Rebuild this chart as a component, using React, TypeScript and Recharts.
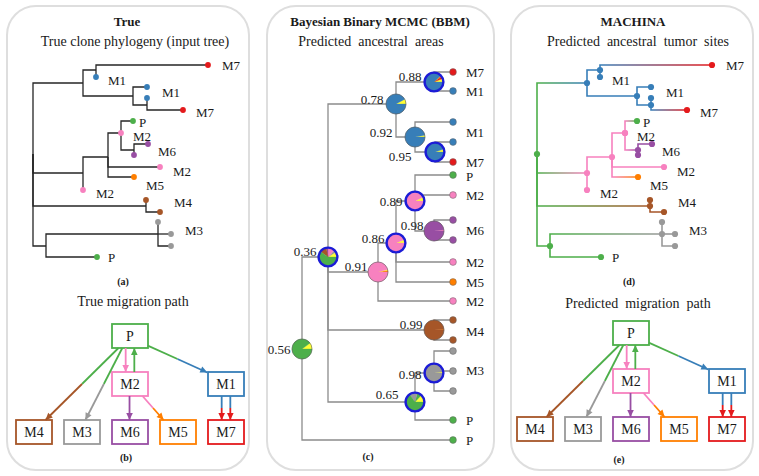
import React from 'react';
import { ScatterChart, Scatter, XAxis, YAxis, Sector } from 'recharts';

const FONT = '"Liberation Serif", "Times New Roman", serif';

const siteColors: Record<string, string> = {
  P: '#4daf4a', M1: '#377eb8', M2: '#f781bf', M3: '#999999', M4: '#a65628',
  M5: '#ff7f00', M6: '#984ea3', M7: '#e41a1c', Y: '#ffff33',
};

// ---------- True clone phylogeny (panels a and d): layout positions ----------
const cloneNodes = [
  { id: 'r', parent: '', x: 33, y: 154, site: 'P', leaf: false },
  { id: 'n1', parent: 'r', x: 83, y: 83, site: 'M1', leaf: false },
  { id: 'n2', parent: 'n1', x: 96, y: 70, site: 'M1', leaf: false },
  { id: 'l1', parent: 'n2', x: 208, y: 65, site: 'M7', leaf: true },
  { id: 'l2', parent: 'n2', x: 96, y: 77, site: 'M1', leaf: true },
  { id: 'n3', parent: 'n1', x: 133, y: 96, site: 'M1', leaf: false },
  { id: 'l3', parent: 'n3', x: 147, y: 87, site: 'M1', leaf: true },
  { id: 'n4', parent: 'n3', x: 147, y: 105, site: 'M1', leaf: false },
  { id: 'l4', parent: 'n4', x: 147, y: 98, site: 'M1', leaf: true },
  { id: 'l5', parent: 'n4', x: 183, y: 110, site: 'M7', leaf: true },
  { id: 'n5', parent: 'r', x: 83, y: 173, site: 'M2', leaf: false },
  { id: 'n6', parent: 'n5', x: 108, y: 157, site: 'M2', leaf: false },
  { id: 'n7', parent: 'n6', x: 121, y: 133, site: 'M2', leaf: false },
  { id: 'l6', parent: 'n7', x: 121, y: 133, site: 'M2', leaf: true },
  { id: 'l7', parent: 'n7', x: 133, y: 121, site: 'P', leaf: true },
  { id: 'n8', parent: 'n7', x: 134, y: 150, site: 'M6', leaf: false },
  { id: 'l8', parent: 'n8', x: 148, y: 144, site: 'M6', leaf: true },
  { id: 'l9', parent: 'n8', x: 134, y: 155, site: 'M6', leaf: true },
  { id: 'l10', parent: 'n6', x: 160, y: 167, site: 'M2', leaf: true },
  { id: 'l11', parent: 'n6', x: 134, y: 177, site: 'M5', leaf: true },
  { id: 'l12', parent: 'n5', x: 83, y: 190, site: 'M2', leaf: true },
  { id: 'n9', parent: 'r', x: 146, y: 206, site: 'M4', leaf: false },
  { id: 'l13', parent: 'n9', x: 146, y: 200, site: 'M4', leaf: true },
  { id: 'l14', parent: 'n9', x: 160, y: 212, site: 'M4', leaf: true },
  { id: 'n10', parent: 'r', x: 46, y: 246, site: 'P', leaf: false },
  { id: 'n11', parent: 'n10', x: 158, y: 234, site: 'M3', leaf: false },
  { id: 'l15', parent: 'n11', x: 158, y: 222, site: 'M3', leaf: true },
  { id: 'l16', parent: 'n11', x: 171, y: 234, site: 'M3', leaf: true },
  { id: 'l17', parent: 'n11', x: 171, y: 246, site: 'M3', leaf: true },
  { id: 'l18', parent: 'n10', x: 97, y: 257, site: 'P', leaf: true },
];

const cloneLabels = [
  { text: 'M7', x: 222, y: 65 }, { text: 'M1', x: 108, y: 80 }, { text: 'M1', x: 162, y: 92 },
  { text: 'M7', x: 196, y: 112 }, { text: 'P', x: 139, y: 122 }, { text: 'M2', x: 133, y: 136 },
  { text: 'M6', x: 158, y: 151 }, { text: 'M2', x: 173, y: 171 }, { text: 'M5', x: 146, y: 185 },
  { text: 'M2', x: 96, y: 193 }, { text: 'M4', x: 174, y: 202 }, { text: 'M3', x: 185, y: 230 },
  { text: 'P', x: 108, y: 257 },
];

// ---------- BBM tree (panel c) ----------
const bbmNodes = [
  { id: 'R', parent: '', x: 302, y: 349, ring: false, pie: [['Y', 0.1], ['P', 0.9]] },
  { id: 'E', parent: 'R', x: 328, y: 257, ring: true, pie: [['Y', 0.09], ['M3', 0.04], ['M2', 0.12], ['M6', 0.03], ['M4', 0.12], ['P', 0.6]] },
  { id: 'B', parent: 'E', x: 396, y: 104, ring: false, pie: [['Y', 0.08], ['M1', 0.92]] },
  { id: 'A', parent: 'B', x: 434, y: 82, ring: true, pie: [['Y', 0.06], ['M7', 0.04], ['M5', 0.02], ['M1', 0.88]] },
  { id: 'C', parent: 'B', x: 415, y: 137, ring: false, pie: [['Y', 0.03], ['M1', 0.97]] },
  { id: 'D', parent: 'C', x: 435, y: 152, ring: true, pie: [['Y', 0.05], ['M1', 0.95]] },
  { id: 'F', parent: 'E', x: 378, y: 272, ring: false, pie: [['M5', 0.03], ['Y', 0.01], ['M2', 0.96]] },
  { id: 'G', parent: 'F', x: 396, y: 243, ring: true, pie: [['Y', 0.06], ['M2', 0.94]] },
  { id: 'H', parent: 'G', x: 415, y: 201, ring: true, pie: [['Y', 0.07], ['M2', 0.93]] },
  { id: 'I', parent: 'H', x: 434, y: 231, ring: false, pie: [['M2', 0.02], ['M6', 0.98]] },
  { id: 'J', parent: 'E', x: 434, y: 330, ring: false, pie: [['M5', 0.01], ['M4', 0.99]] },
  { id: 'K', parent: 'E', x: 415, y: 402, ring: true, pie: [['Y', 0.13], ['P', 0.08], ['M3', 0.14], ['P', 0.65]] },
  { id: 'L', parent: 'K', x: 434, y: 373, ring: true, pie: [['Y', 0.02], ['M3', 0.98]] },
];

const bbmLeaves = [
  { parent: 'A', x: 453, y: 72, site: 'M7' }, { parent: 'A', x: 453, y: 91, site: 'M1' },
  { parent: 'C', x: 453, y: 122, site: 'M1' }, { parent: 'D', x: 453, y: 142, site: 'M1' },
  { parent: 'D', x: 453, y: 162, site: 'M7' }, { parent: 'H', x: 453, y: 175, site: 'P' },
  { parent: 'H', x: 453, y: 195, site: 'M2' }, { parent: 'I', x: 453, y: 220, site: 'M6' },
  { parent: 'I', x: 453, y: 240, site: 'M6' }, { parent: 'G', x: 453, y: 262, site: 'M2' },
  { parent: 'G', x: 453, y: 282, site: 'M5' }, { parent: 'F', x: 453, y: 301, site: 'M2' },
  { parent: 'J', x: 453, y: 320, site: 'M4' }, { parent: 'J', x: 453, y: 340, site: 'M4' },
  { parent: 'L', x: 453, y: 351, site: 'M3' }, { parent: 'L', x: 453, y: 371, site: 'M3' },
  { parent: 'L', x: 453, y: 391, site: 'M3' }, { parent: 'K', x: 453, y: 420, site: 'P' },
  { parent: 'R', x: 453, y: 440, site: 'P' },
];

const bbmLeafLabels = [
  { text: 'M7', x: 466, y: 72 }, { text: 'M1', x: 466, y: 91 }, { text: 'M1', x: 466, y: 132 },
  { text: 'M7', x: 466, y: 162 }, { text: 'P', x: 466, y: 176 }, { text: 'M2', x: 466, y: 195 },
  { text: 'M6', x: 466, y: 230 }, { text: 'M2', x: 466, y: 262 }, { text: 'M5', x: 466, y: 282 },
  { text: 'M2', x: 466, y: 301 }, { text: 'M4', x: 466, y: 331 }, { text: 'M3', x: 466, y: 370 },
  { text: 'P', x: 466, y: 420 }, { text: 'P', x: 466, y: 440 },
];

const bbmProbLabels = [
  { text: '0.88', x: 410, y: 76 }, { text: '0.78', x: 372, y: 99 }, { text: '0.92', x: 381, y: 132 },
  { text: '0.95', x: 400, y: 156 }, { text: '0.89', x: 391, y: 201 }, { text: '0.98', x: 412, y: 225 },
  { text: '0.86', x: 373, y: 238 }, { text: '0.36', x: 305, y: 251 }, { text: '0.91', x: 356, y: 266 },
  { text: '0.99', x: 411, y: 324 }, { text: '0.98', x: 410, y: 374 }, { text: '0.65', x: 387, y: 394 },
  { text: '0.56', x: 279, y: 349 },
];

// ---------- Migration graphs (panels b and e): grid positions ----------
const migNodes = [
  { id: 'P', col: 2, row: 0 }, { id: 'M2', col: 2, row: 1 }, { id: 'M1', col: 4, row: 1 },
  { id: 'M4', col: 0, row: 2 }, { id: 'M3', col: 1, row: 2 }, { id: 'M6', col: 2, row: 2 },
  { id: 'M5', col: 3, row: 2 }, { id: 'M7', col: 4, row: 2 },
];

const migEdges = [
  { c1: 'P', c2: 'M4', x1: 1.76, y1: 0.25, x2: 0.24, y2: 1.75 },
  { c1: 'P', c2: 'M3', x1: 1.84, y1: 0.25, x2: 1.07, y2: 1.75 },
  { c1: 'M2', c2: 'M2', x1: 1.91, y1: 0.25, x2: 1.91, y2: 0.75 },
  { c1: 'P', c2: 'P', x1: 2.09, y1: 0.75, x2: 2.09, y2: 0.25 },
  { c1: 'P', c2: 'M1', x1: 2.37, y1: 0.2, x2: 3.61, y2: 0.76 },
  { c1: 'M6', c2: 'M6', x1: 1.99, y1: 1.25, x2: 1.99, y2: 1.75 },
  { c1: 'M2', c2: 'M5', x1: 2.26, y1: 1.25, x2: 2.7, y2: 1.75 },
  { c1: 'M1', c2: 'M7', x1: 3.91, y1: 1.25, x2: 3.91, y2: 1.75 },
  { c1: 'M1', c2: 'M7', x1: 4.09, y1: 1.25, x2: 4.09, y2: 1.75 },
];

// ---------- helpers ----------
const NoShape = () => <g />;

function elbow(p: any, c: any) {
  return [{ x: p.x, y: p.y }, { x: p.x, y: c.y }, { x: c.x, y: c.y }];
}

const makeLabelShape = (anchor: string, size: number) => (props: any) => (
  <text x={props.cx} y={props.cy} textAnchor={anchor} dominantBaseline="central"
    fontFamily={FONT} fontSize={size} fill="#1a1a1a">{props.payload.text}</text>
);
const LeftLabel = makeLabelShape('start', 13);
const MidLabel = makeLabelShape('middle', 13);

const gradientPairs = (() => {
  const byId: any = Object.fromEntries(cloneNodes.map((n) => [n.id, n]));
  const set = new Set<string>();
  cloneNodes.forEach((n) => {
    if (n.parent && byId[n.parent].site !== n.site) set.add(byId[n.parent].site + '-' + n.site);
  });
  return Array.from(set);
})();

function Axes(x0: number, x1: number, y0: number, y1: number) {
  return [
    <XAxis key="x" type="number" dataKey="x" domain={[x0, x1]} hide allowDataOverflow />,
    <YAxis key="y" type="number" dataKey="y" domain={[y0, y1]} hide reversed allowDataOverflow />,
  ];
}

function CloneTree({ left, colored }: { left: number; colored: boolean }) {
  const byId: any = Object.fromEntries(cloneNodes.map((n) => [n.id, n]));
  const edges = cloneNodes.filter((n) => n.parent).map((n) => {
    const p = byId[n.parent];
    const stroke = !colored ? '#262626' : p.site === n.site ? siteColors[n.site] : `url(#g-${p.site}-${n.site})`;
    return (
      <Scatter key={'e' + n.id} data={elbow(p, n)} fill="none"
        line={{ stroke, strokeWidth: colored ? 1.6 : 1.3 }} shape={NoShape} isAnimationActive={false} />
    );
  });
  const dots = colored ? cloneNodes : cloneNodes.filter((n) => n.leaf);
  const r = colored ? 3.1 : 2.9;
  return (
    <div style={{ position: 'absolute', left, top: 0 }}>
      <ScatterChart width={253} height={300} margin={{ top: 0, right: 0, bottom: 0, left: 0 }}>
        {Axes(0, 253, 0, 300)}
        {edges}
        <Scatter data={dots} isAnimationActive={false}
          shape={(p: any) => <circle cx={p.cx} cy={p.cy} r={r} fill={siteColors[p.payload.site]} />} />
        <Scatter data={cloneLabels} isAnimationActive={false} shape={LeftLabel} />
      </ScatterChart>
    </div>
  );
}

const PieShape = (props: any) => {
  const { cx, cy, payload } = props;
  let a = 0;
  const R = payload.ring ? 9.5 : 10;
  const slices = payload.pie.map((s: any, i: number) => {
    const st = a;
    a += s[1] * 360;
    return (
      <Sector key={i} cx={cx} cy={cy} innerRadius={0} outerRadius={R} startAngle={st} endAngle={a}
        fill={siteColors[s[0]]} stroke={siteColors[s[0]]} strokeWidth={0.3} />
    );
  });
  return (
    <g>
      {slices}
      {payload.ring ? (
        <circle cx={cx} cy={cy} r={9.4} fill="none" stroke="#1c1cd6" strokeWidth={2.4} />
      ) : (
        <circle cx={cx} cy={cy} r={10} fill="none" stroke="#5a5a5a" strokeWidth={0.6} />
      )}
    </g>
  );
};

function BbmTree() {
  const byId: any = Object.fromEntries(bbmNodes.map((n) => [n.id, n]));
  const all: any[] = [...bbmNodes, ...bbmLeaves];
  const edges = all.filter((n) => n.parent).map((n, i) => (
    <Scatter key={'b' + i} data={elbow(byId[n.parent], n)} fill="none"
      line={{ stroke: '#8c8c8c', strokeWidth: 1.3 }} shape={NoShape} isAnimationActive={false} />
  ));
  return (
    <div style={{ position: 'absolute', left: 253, top: 0 }}>
      <ScatterChart width={253} height={476} margin={{ top: 0, right: 0, bottom: 0, left: 0 }}>
        {Axes(253, 506, 0, 476)}
        {edges}
        <Scatter data={bbmNodes} isAnimationActive={false} shape={PieShape} />
        <Scatter data={bbmLeaves} isAnimationActive={false}
          shape={(p: any) => <circle cx={p.cx} cy={p.cy} r={3.4} fill={siteColors[p.payload.site]} stroke="#666" strokeWidth={0.5} />} />
        <Scatter data={bbmLeafLabels} isAnimationActive={false} shape={LeftLabel} />
        <Scatter data={bbmProbLabels} isAnimationActive={false} shape={MidLabel} />
      </ScatterChart>
    </div>
  );
}

const ArrowShape = (p: any) => {
  const { cx, cy, payload } = p;
  if (!payload.head) return <g />;
  const a = Math.atan2(payload.dy, payload.dx);
  const L = 7, W = 3.3;
  const bx = cx - L * Math.cos(a), by = cy - L * Math.sin(a);
  const pts = `${cx},${cy} ${bx - W * Math.sin(a)},${by + W * Math.cos(a)} ${bx + W * Math.sin(a)},${by - W * Math.cos(a)}`;
  return <polygon points={pts} fill={payload.color} />;
};

const BoxShape = (p: any) => {
  const { cx, cy, payload } = p;
  const c = siteColors[payload.id];
  return (
    <g>
      <rect x={cx - 18} y={cy - 12} width={36} height={24} fill="#fff" stroke={c} strokeWidth={1.8} />
      <text x={cx} y={cy + 0.5} textAnchor="middle" dominantBaseline="central" fontFamily={FONT} fontSize={14} fill="#1a1a1a">
        {payload.id}
      </text>
    </g>
  );
};

function MigrationGraph({ left, top }: { left: number; top: number }) {
  const edgeEls: any[] = [];
  migEdges.forEach((e, i) => {
    const mx = (e.x1 + e.x2) / 2, my = (e.y1 + e.y2) / 2;
    edgeEls.push(
      <Scatter key={'a' + i} data={[{ x: e.x1, y: e.y1 }, { x: mx, y: my }]} fill="none"
        line={{ stroke: siteColors[e.c1], strokeWidth: 1.8 }} shape={NoShape} isAnimationActive={false} />,
    );
    edgeEls.push(
      <Scatter key={'b' + i} data={[{ x: mx, y: my }, { x: e.x2, y: e.y2, head: true, dx: e.x2 - e.x1, dy: e.y2 - e.y1, color: siteColors[e.c2] }]}
        fill="none" line={{ stroke: siteColors[e.c2], strokeWidth: 1.8 }} shape={ArrowShape} isAnimationActive={false} />,
    );
  });
  return (
    <div style={{ position: 'absolute', left, top }}>
      <ScatterChart width={240} height={144} margin={{ top: 0, right: 0, bottom: 0, left: 0 }}>
        {Axes(-0.5, 4.5, -0.5, 2.5)}
        <Scatter data={migNodes.map((n) => ({ x: n.col, y: n.row, id: n.id }))} isAnimationActive={false} shape={BoxShape} />
        {edgeEls}
      </ScatterChart>
    </div>
  );
}

function Txt({ x, y, size, bold, children }: any) {
  return (
    <div style={{
      position: 'absolute', left: x - 150, width: 300, top: y - size * 0.62, lineHeight: `${size * 1.2}px`,
      textAlign: 'center', fontSize: size, fontWeight: bold ? 700 : 400, whiteSpace: 'pre', color: '#1a1a1a', fontFamily: FONT,
    }}>{children}</div>
  );
}

const frameStyle = (left: number, width: number): React.CSSProperties => ({
  position: 'absolute', left, top: 5, width, height: 466, boxSizing: 'border-box',
  border: '2px solid #dedede', borderRadius: 30,
});

export default function App() {
  return (
    <div style={{ position: 'absolute', left: 0, top: 0, width: 759, height: 476, background: '#fff', overflow: 'hidden', fontFamily: FONT }}>
      <svg width={0} height={0} style={{ position: 'absolute' }}>
        <defs>
          {gradientPairs.map((k) => {
            const [a, b] = k.split('-');
            return (
              <linearGradient key={k} id={'g-' + k} x1="0" y1="0" x2="1" y2="0">
                <stop offset="0" stopColor={siteColors[a]} />
                <stop offset="1" stopColor={siteColors[b]} />
              </linearGradient>
            );
          })}
        </defs>
      </svg>
      <div style={frameStyle(6, 244)} />
      <div style={frameStyle(266, 229)} />
      <div style={frameStyle(510, 244)} />

      <Txt x={127} y={22} size={13} bold>True</Txt>
      <Txt x={135} y={43} size={14}>True clone phylogeny (input tree)</Txt>
      <Txt x={123} y={282} size={10} bold>(a)</Txt>
      <Txt x={133} y={303} size={14}>True migration path</Txt>
      <Txt x={126} y={458} size={10} bold>(b)</Txt>

      <Txt x={380} y={22} size={13} bold>Bayesian Binary MCMC (BBM)</Txt>
      <Txt x={371} y={43} size={14}>{'Predicted  ancestral  areas'}</Txt>
      <Txt x={368} y={457} size={10} bold>(c)</Txt>

      <Txt x={633} y={22} size={13} bold>MACHINA</Txt>
      <Txt x={638} y={43} size={14}>{'Predicted  ancestral  tumor  sites'}</Txt>
      <Txt x={629} y={282} size={10} bold>(d)</Txt>
      <Txt x={638} y={305} size={14}>{'Predicted  migration  path'}</Txt>
      <Txt x={619} y={460} size={10} bold>(e)</Txt>

      <CloneTree left={0} colored={false} />
      <CloneTree left={504} colored={true} />
      <BbmTree />
      <MigrationGraph left={9.5} top={311.5} />
      <MigrationGraph left={511} top={308.5} />
    </div>
  );
}
